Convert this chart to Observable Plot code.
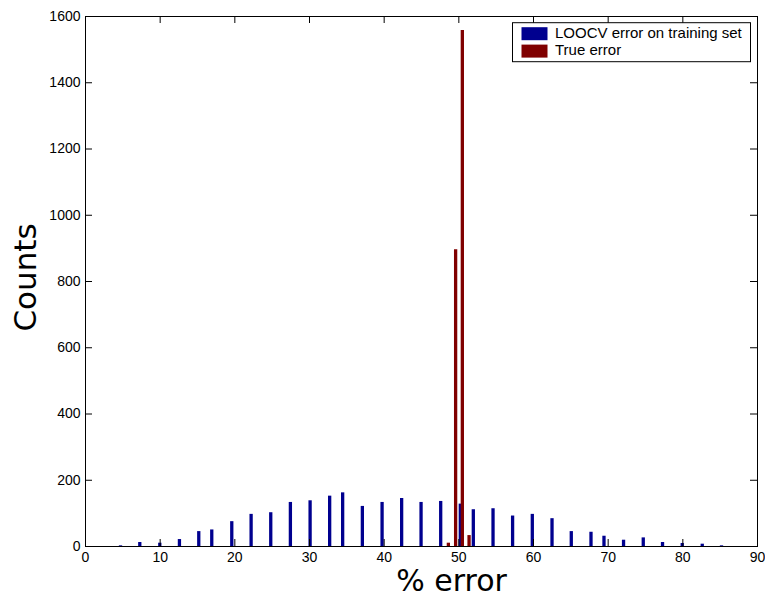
<!DOCTYPE html>
<html><head><meta charset="utf-8">
<script src="https://cdn.jsdelivr.net/npm/d3@7"></script>
<script src="https://cdn.jsdelivr.net/npm/@observablehq/plot@0.6"></script>
<style>html,body{margin:0;padding:0;background:#fff}</style>
</head><body><div id="chart"></div>
<script>
// ---- data ----
const seriesNames = ["LOOCV error on training set", "True error"];
const seriesColors = ["#00008F", "#800000"];

const looX = [4.69, 7.27, 9.95, 12.58, 15.17, 16.91, 19.59, 22.18, 24.81, 27.44, 30.08, 32.70, 34.44,
  37.08, 39.72, 42.34, 44.94, 47.57, 50.20, 51.94, 54.58, 57.20, 59.84, 62.48, 65.06, 67.70, 69.44,
  72.06, 74.70, 77.28, 79.92, 82.60, 85.18];
const looCounts = [2, 12, 10, 21, 45, 50, 75, 97, 102, 133, 138, 152, 162,
  121, 133, 145, 133, 136, 128, 111, 114, 92, 97, 84, 45, 43, 31,
  19, 26, 12, 9, 7, 2];

const trueX = [48.60, 49.57, 50.47, 51.37];
const trueCounts = [10, 896, 1558, 33];

const xTicks = [0, 10, 20, 30, 40, 50, 60, 70, 80, 90];
const yTicks = [0, 200, 400, 600, 800, 1000, 1200, 1400, 1600];
const xLabel = "% error";
const yLabel = "Counts";

// ---- build ----
const loo = looX.map((x, i) => ({x, count: looCounts[i]}));
const tru = trueX.map((x, i) => ({x, count: trueCounts[i]}));

const W = 765, H = 597, mL = 85, mR = 8, mT = 16, mB = 51;
const innerW = W - mL - mR, innerH = H - mT - mB;
const tk = 7;
const labelFont = "'DejaVu Sans', sans-serif";
const tickFont = "'Liberation Sans', Arial, Helvetica, sans-serif";

const plot = Plot.plot({
  width: W, height: H,
  marginLeft: mL, marginRight: mR, marginTop: mT, marginBottom: mB,
  style: {fontFamily: tickFont, fontSize: "14px", color: "#000", background: "#fff"},
  x: {domain: [0, 90], ticks: xTicks, tickSize: 0, tickPadding: 6, tickFormat: d => String(d), label: null},
  y: {domain: [0, 1600], ticks: yTicks, tickSize: 0, tickPadding: 5, tickFormat: d => String(d), label: null},
  marks: [
    Plot.ruleY([0], {stroke: seriesColors[0], strokeWidth: 1}),
    Plot.ruleY([0], {stroke: seriesColors[1], strokeWidth: 1, strokeDasharray: "3,3"}),
    Plot.ruleX(loo, {x: "x", y1: 0, y2: "count", stroke: seriesColors[0], strokeWidth: 3.3}),
    Plot.ruleX(tru, {x: "x", y1: 0, y2: "count", stroke: seriesColors[1], strokeWidth: 3.3}),
    Plot.tickX(xTicks, {x: d => d, insetTop: innerH - tk, stroke: "#000"}),
    Plot.tickX(xTicks, {x: d => d, insetBottom: innerH - tk, stroke: "#000"}),
    Plot.tickY(yTicks, {y: d => d, insetRight: innerW - tk, stroke: "#000"}),
    Plot.tickY(yTicks, {y: d => d, insetLeft: innerW - tk, stroke: "#000"}),
    Plot.frame({stroke: "#000"}),
    Plot.text([xLabel], {text: d => d, frameAnchor: "bottom", textAnchor: "middle", dx: 30, dy: 44, lineAnchor: "bottom", fontSize: 30, fontFamily: labelFont, fill: "#000"}),
    Plot.text([yLabel], {text: d => d, frameAnchor: "left", textAnchor: "middle", rotate: -90, dx: -50, dy: -4, lineAnchor: "bottom", fontSize: 31, fontFamily: labelFont, fill: "#000"})
  ]
});

// ---- legend (inside the axes, top right) ----
const svg = d3.select(plot);
const legW = 238, legH = 39;
const legX = mL + innerW - 6.5 - legW, legY = mT + 6.7;
const lg = svg.append("g").attr("class", "legend").attr("text-anchor", "start");
lg.append("rect").attr("x", legX).attr("y", legY).attr("width", legW).attr("height", legH)
  .attr("fill", "#fff").attr("stroke", "#000").attr("stroke-width", 1);
seriesNames.forEach((name, i) => {
  const y0 = legY + 4.5 + i * 17.4;
  lg.append("rect").attr("x", legX + 9).attr("y", y0).attr("width", 26).attr("height", 13)
    .attr("fill", seriesColors[i]);
  lg.append("text").attr("x", legX + 42.5).attr("y", y0 + 10.8)
    .attr("text-anchor", "start")
    .attr("font-family", tickFont).attr("font-size", 15)
    .attr("fill", "#000").text(name);
});

document.getElementById("chart").appendChild(plot);
</script>
</body></html>
